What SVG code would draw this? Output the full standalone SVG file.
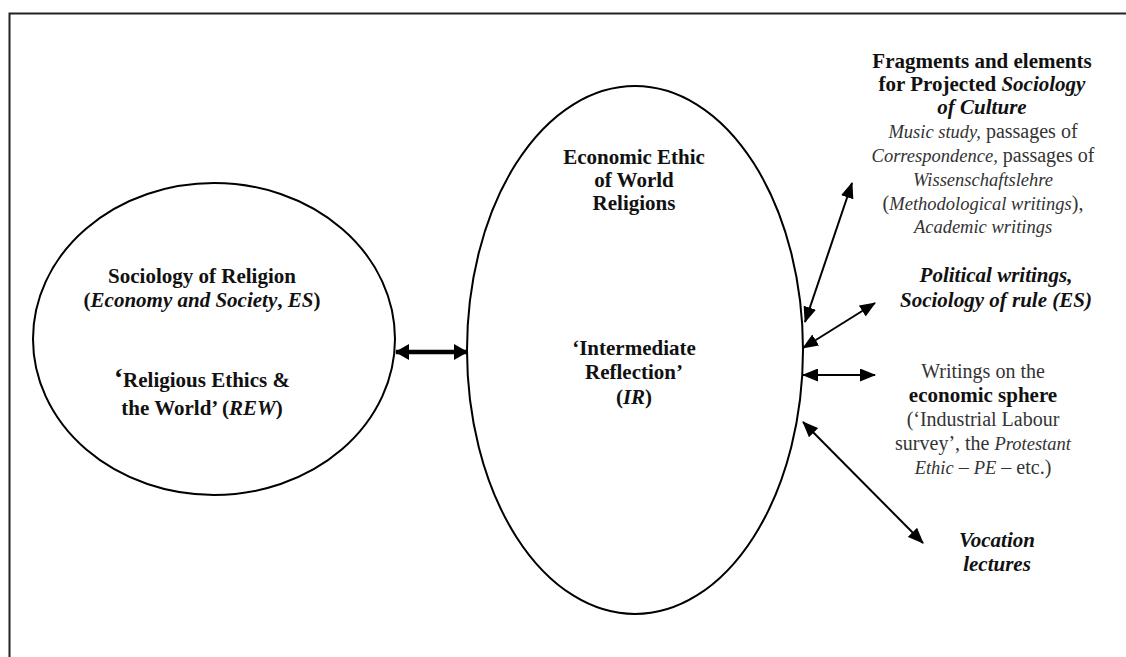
<svg xmlns="http://www.w3.org/2000/svg" width="1126" height="657" viewBox="0 0 1126 657">
<style>
text{font-family:"Liberation Serif","Times New Roman",serif;text-anchor:middle}
.b{font-size:21px;font-weight:bold;fill:#111}
.r{font-size:20px;fill:#333}
.i{font-style:italic}
.ri{font-style:italic;font-size:18.5px}
.node{fill:none;stroke:#000;stroke-width:2}
.conn{stroke:#000;fill:none}
</style>
<defs>
<marker id="ah" viewBox="0 0 16 13" refX="15" refY="6.5" markerWidth="16" markerHeight="13" markerUnits="userSpaceOnUse" orient="auto-start-reverse">
<path d="M0,0 L16,6.5 L0,13 z" fill="#000"/>
</marker>
<marker id="ahb" viewBox="0 0 14 16" refX="13" refY="8" markerWidth="14" markerHeight="16" markerUnits="userSpaceOnUse" orient="auto-start-reverse">
<path d="M0,0 L14,8 L0,16 z" fill="#000"/>
</marker>
</defs>
<rect width="1126" height="657" fill="#fff"/>
<g id="frame">
<path d="M9.5,657 V13.5 H1126" fill="none" stroke="#222" stroke-width="2"/>
</g>

<g id="node-sociology-religion">
<ellipse class="node" cx="214" cy="339" rx="181" ry="156"/>
<text class="b" x="202" y="283">Sociology of Religion</text>
<text class="b" x="202" y="307">(<tspan class="i">Economy and Society</tspan>, <tspan class="i">ES</tspan>)</text>
<text class="b" x="202" y="387"><tspan font-size="27">‘</tspan>Religious Ethics &amp;</text>
<text class="b" x="202" y="415">the World’ (<tspan class="i">REW</tspan>)</text>
</g>

<g id="node-economic-ethic">
<ellipse class="node" cx="635" cy="350" rx="168" ry="264"/>
<text class="b" x="634" y="164">Economic Ethic</text>
<text class="b" x="634" y="187">of World</text>
<text class="b" x="634" y="210">Religions</text>
<text class="b" x="634" y="355">‘Intermediate</text>
<text class="b" x="634" y="379">Reflection’</text>
<text class="b" x="634" y="404">(<tspan class="i">IR</tspan>)</text>
</g>

<g id="node-culture">
<text class="b" x="982" y="68">Fragments and elements</text>
<text class="b" x="982" y="91">for Projected <tspan class="i">Sociology</tspan></text>
<text class="b i" x="982" y="114">of Culture</text>
<text class="r" x="983" y="138"><tspan class="ri">Music study,</tspan> passages of</text>
<text class="r" x="983" y="162"><tspan class="ri">Correspondence,</tspan> passages of</text>
<text class="r" x="983" y="186"><tspan class="ri">Wissenschaftslehre</tspan></text>
<text class="r" x="983" y="210">(<tspan class="ri">Methodological writings</tspan>),</text>
<text class="r" x="983" y="233"><tspan class="ri">Academic writings</tspan></text>
</g>

<g id="node-political">
<text class="b i" x="996" y="282">Political writings,</text>
<text class="b i" x="996" y="307">Sociology of rule (ES)</text>
</g>

<g id="node-economic-sphere">
<text class="r" x="983" y="378">Writings on the</text>
<text class="b" x="983" y="402">economic sphere</text>
<text class="r" x="983" y="426">(‘Industrial Labour</text>
<text class="r" x="983" y="450">survey’, the <tspan class="ri">Protestant</tspan></text>
<text class="r" x="983" y="474"><tspan class="ri">Ethic</tspan> – <tspan class="ri">PE</tspan> – etc.)</text>
</g>

<g id="node-vocation">
<text class="b i" x="997" y="547">Vocation</text>
<text class="b i" x="997" y="571">lectures</text>
</g>

<g id="connectors">
<line class="conn" x1="396" y1="352" x2="467" y2="352" stroke-width="4.5" marker-start="url(#ahb)" marker-end="url(#ahb)"/>
<line class="conn" x1="805" y1="322" x2="852" y2="183" stroke-width="2" marker-start="url(#ah)" marker-end="url(#ah)"/>
<line class="conn" x1="803" y1="348" x2="875" y2="303" stroke-width="2" marker-start="url(#ah)" marker-end="url(#ah)"/>
<line class="conn" x1="803" y1="375" x2="875" y2="375" stroke-width="2" marker-start="url(#ah)" marker-end="url(#ah)"/>
<line class="conn" x1="803" y1="422" x2="923" y2="543" stroke-width="2" marker-start="url(#ah)" marker-end="url(#ah)"/>
</g>
</svg>
